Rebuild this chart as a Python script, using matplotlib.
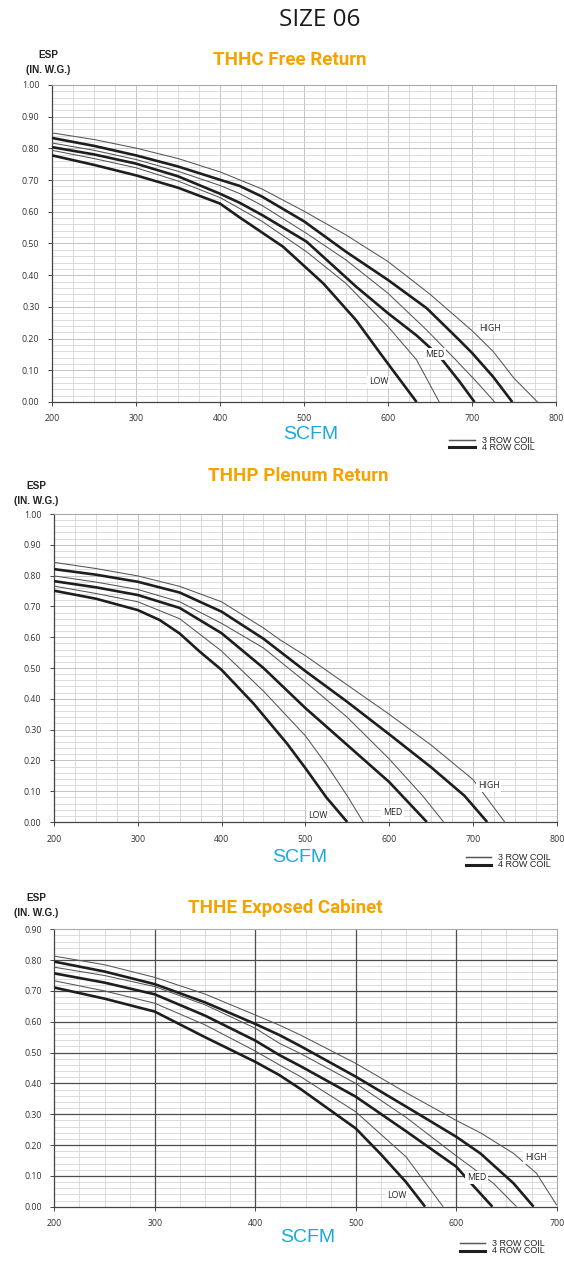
import matplotlib
matplotlib.use("Agg")
import numpy as np
import matplotlib.pyplot as plt
from matplotlib.lines import Line2D
from matplotlib.ticker import MultipleLocator, FormatStrFormatter
from matplotlib import font_manager

# ---------------------------------------------------------------- data
# THHC Free Return
free_high3_cfm = [200, 250, 300, 350, 400, 450, 500, 550, 600, 650, 700, 725, 750, 778]
free_high3_esp = [0.849, 0.828, 0.801, 0.768, 0.726, 0.672, 0.602, 0.527, 0.443, 0.34, 0.225, 0.16, 0.075, 0.0]
free_high4_cfm = [200, 250, 300, 350, 400, 423, 450, 500, 550, 600, 646, 685, 700, 725, 748]
free_high4_esp = [0.833, 0.808, 0.778, 0.743, 0.701, 0.682, 0.648, 0.570, 0.474, 0.385, 0.296, 0.195, 0.155, 0.08, 0.0]
free_med3_cfm = [200, 250, 300, 350, 400, 423, 450, 503, 550, 600, 646, 681, 705, 727]
free_med3_esp = [0.817, 0.794, 0.765, 0.728, 0.683, 0.658, 0.62, 0.532, 0.448, 0.343, 0.227, 0.132, 0.065, 0.0]
free_med4_cfm = [200, 250, 300, 350, 400, 423, 450, 503, 562, 600, 634, 661, 685, 703]
free_med4_esp = [0.804, 0.781, 0.752, 0.712, 0.657, 0.629, 0.59, 0.506, 0.364, 0.28, 0.21, 0.145, 0.065, 0.0]
free_low3_cfm = [200, 250, 300, 350, 400, 423, 450, 503, 550, 600, 634, 661]
free_low3_esp = [0.794, 0.768, 0.739, 0.697, 0.645, 0.611, 0.57, 0.474, 0.374, 0.238, 0.133, 0.0]
free_low4_cfm = [200, 250, 300, 350, 400, 423, 475, 523, 562, 594, 634]
free_low4_esp = [0.778, 0.748, 0.715, 0.676, 0.626, 0.583, 0.49, 0.374, 0.258, 0.142, 0.0]

# THHP Plenum Return
plenum_high3_cfm = [200, 250, 300, 350, 400, 450, 470, 500, 550, 600, 650, 700, 738]
plenum_high3_esp = [0.843, 0.823, 0.799, 0.765, 0.715, 0.63, 0.591, 0.54, 0.445, 0.35, 0.25, 0.138, 0.0]
plenum_high4_cfm = [200, 250, 300, 350, 400, 450, 500, 550, 600, 650, 690, 717]
plenum_high4_esp = [0.821, 0.803, 0.780, 0.745, 0.683, 0.595, 0.49, 0.39, 0.285, 0.178, 0.085, 0.0]
plenum_med3_cfm = [200, 250, 300, 350, 400, 450, 500, 550, 600, 640, 665]
plenum_med3_esp = [0.799, 0.779, 0.755, 0.715, 0.645, 0.565, 0.455, 0.34, 0.205, 0.085, 0.0]
plenum_med4_cfm = [200, 250, 300, 350, 400, 450, 500, 550, 600, 645]
plenum_med4_esp = [0.782, 0.762, 0.737, 0.695, 0.613, 0.50, 0.37, 0.25, 0.13, 0.0]
plenum_low3_cfm = [200, 250, 300, 350, 400, 450, 500, 525, 550, 569]
plenum_low3_esp = [0.766, 0.742, 0.715, 0.66, 0.555, 0.425, 0.28, 0.187, 0.085, 0.0]
plenum_low4_cfm = [200, 250, 300, 326, 350, 374, 400, 438, 478, 500, 525, 550]
plenum_low4_esp = [0.751, 0.725, 0.688, 0.656, 0.612, 0.553, 0.494, 0.385, 0.255, 0.175, 0.08, 0.0]

# THHE Exposed Cabinet
cabinet_high3_cfm = [200, 250, 300, 350, 400, 424, 445, 500, 550, 600, 625, 657, 680, 700]
cabinet_high3_esp = [0.813, 0.785, 0.744, 0.69, 0.622, 0.589, 0.557, 0.465, 0.37, 0.28, 0.238, 0.173, 0.108, 0.005]
cabinet_high4_cfm = [200, 250, 300, 350, 400, 424, 445, 500, 550, 600, 624, 657, 677]
cabinet_high4_esp = [0.795, 0.763, 0.722, 0.663, 0.593, 0.557, 0.521, 0.422, 0.325, 0.227, 0.173, 0.076, 0.0]
cabinet_med3_cfm = [200, 250, 300, 350, 400, 424, 445, 500, 550, 600, 637, 660]
cabinet_med3_esp = [0.777, 0.75, 0.714, 0.655, 0.579, 0.53, 0.497, 0.40, 0.29, 0.165, 0.076, 0.0]
cabinet_med4_cfm = [200, 250, 300, 350, 400, 424, 445, 500, 550, 600, 615, 636]
cabinet_med4_esp = [0.757, 0.727, 0.689, 0.62, 0.539, 0.492, 0.456, 0.357, 0.245, 0.13, 0.075, 0.0]
cabinet_low3_cfm = [200, 250, 300, 350, 400, 424, 445, 500, 550, 587]
cabinet_low3_esp = [0.733, 0.70, 0.66, 0.59, 0.505, 0.46, 0.422, 0.308, 0.162, 0.0]
cabinet_low4_cfm = [200, 250, 300, 350, 400, 424, 445, 500, 525, 550, 569]
cabinet_low4_esp = [0.711, 0.675, 0.633, 0.55, 0.47, 0.427, 0.382, 0.254, 0.17, 0.08, 0.0]

speed_labels = ["HIGH", "MED", "LOW"]
coil_labels = ["3 ROW COIL", "4 ROW COIL"]
chart_titles = ["THHC Free Return", "THHP Plenum Return", "THHE Exposed Cabinet"]
page_title = "SIZE 06"

# ---------------------------------------------------------------- styling
W, H = 564, 1264
fig = plt.figure(figsize=(W / 100, H / 100), dpi=100)
fig.patch.set_facecolor("white")

available = {f.name for f in font_manager.fontManager.ttflist}
TITLE_FONT = "Liberation Sans Narrow" if "Liberation Sans Narrow" in available else "Roboto"
BODY_FONT = "Open Sans" if "Open Sans" in available else "DejaVu Sans"
LABEL_FONT = "Liberation Sans"

ORANGE = "#F5A300"
BLUE = "#1AA7E0"
THIN = dict(color="#555555", lw=0.75, solid_capstyle="butt")
THICK = dict(color="#1e1e1e", lw=1.9, solid_capstyle="butt")


def px_axes(x0, y0, x1, y1):
    return fig.add_axes([x0 / W, 1 - y1 / H, (x1 - x0) / W, (y1 - y0) / H])


def style_axes(ax, xmax, ymax, dark_major):
    ax.set_xlim(200, xmax)
    ax.set_ylim(0, ymax)
    ax.xaxis.set_major_locator(MultipleLocator(100))
    ax.xaxis.set_minor_locator(MultipleLocator(25))
    ax.yaxis.set_major_locator(MultipleLocator(0.1))
    ax.yaxis.set_minor_locator(MultipleLocator(0.02))
    ax.yaxis.set_major_formatter(FormatStrFormatter("%.2f"))
    ax.grid(which="minor", color="#d6d6d6", lw=0.6)
    if dark_major:
        # heavy major grid drawn above the light minor grid
        ax.grid(which="major", visible=False)
        for xv in np.arange(300, xmax, 100):
            ax.axvline(xv, color="#4d4d4d", lw=0.9, zorder=1)
        for yv in np.arange(1, round(ymax * 10)) / 10:
            ax.axhline(yv, color="#4d4d4d", lw=0.9, zorder=1)
    else:
        ax.grid(which="major", color="#c4c4c4", lw=0.7)
    ax.set_axisbelow(True)
    ax.tick_params(which="minor", length=0)
    ax.tick_params(which="major", length=3, width=0.7, color="#444444",
                   labelsize=6.3, labelcolor="#333333", pad=6)
    for lab in ax.get_xticklabels() + ax.get_yticklabels():
        lab.set_family(BODY_FONT)
    for s in ("left", "bottom"):
        ax.spines[s].set_color("#444444")
        ax.spines[s].set_linewidth(0.9)
    for s in ("top", "right"):
        ax.spines[s].set_color("#aaaaaa")
        ax.spines[s].set_linewidth(0.8)


def draw_curves(ax, curves):
    for cfm, esp, style in curves:
        ax.plot(cfm, esp, zorder=3, solid_joinstyle="round", **style)


def speed_text(ax, x, y, s):
    ax.text(x, y, s, fontsize=6.3, family=BODY_FONT, color="#222222",
            ha="center", va="center", zorder=6,
            bbox=dict(facecolor="white", edgecolor="none", pad=1.2))


def headers(title, title_cx, title_y, esp_cx, esp_y):
    fig.text(title_cx / W, 1 - title_y / H, title, fontsize=13.5, weight="bold",
             family=TITLE_FONT, color=ORANGE, ha="center", va="center")
    fig.text(esp_cx / W, 1 - esp_y / H, "ESP", fontsize=7.2, weight="bold",
             family=LABEL_FONT, color="#222222", ha="center", va="center")
    fig.text(esp_cx / W, 1 - (esp_y + 15) / H, "(IN. W.G.)", fontsize=7.2,
             weight="bold", family=LABEL_FONT, color="#222222",
             ha="center", va="center")


def footer(scfm_cx, scfm_y, line_x0, line_x1, leg_y):
    fig.text(scfm_cx / W, 1 - scfm_y / H, "SCFM", fontsize=14, family=LABEL_FONT,
             color=BLUE, ha="center", va="center")
    for i, (lab, st) in enumerate(zip(coil_labels, (THIN, THICK))):
        y = 1 - (leg_y + 7.5 * i) / H
        fig.add_artist(Line2D([line_x0 / W, line_x1 / W], [y, y],
                              color=st["color"], lw=st["lw"] + 0.3))
        fig.text((line_x1 + 7) / W, y, lab, fontsize=6.5, family=LABEL_FONT,
                 color="#222222", ha="left", va="center")


fig.text(320 / W, 1 - 20 / H, page_title, fontsize=17.5, family=BODY_FONT,
         color="#1a1a1a", ha="center", va="center")

# ---------------------------------------------------------------- chart 1
ax1 = px_axes(52, 85, 556, 402)
style_axes(ax1, 800, 1.0, dark_major=False)
draw_curves(ax1, [
    (free_high3_cfm, free_high3_esp, THIN),
    (free_high4_cfm, free_high4_esp, THICK),
    (free_med3_cfm, free_med3_esp, THIN),
    (free_med4_cfm, free_med4_esp, THICK),
    (free_low3_cfm, free_low3_esp, THIN),
    (free_low4_cfm, free_low4_esp, THICK),
])
speed_text(ax1, 721, 0.233, speed_labels[0])
speed_text(ax1, 656, 0.151, speed_labels[1])
speed_text(ax1, 589, 0.064, speed_labels[2])
headers(chart_titles[0], 290, 60, 48, 55)
footer(311, 434, 449, 475, 440)

# ---------------------------------------------------------------- chart 2
ax2 = px_axes(54, 514, 556.7, 822)
style_axes(ax2, 800, 1.0, dark_major=False)
draw_curves(ax2, [
    (plenum_high3_cfm, plenum_high3_esp, THIN),
    (plenum_high4_cfm, plenum_high4_esp, THICK),
    (plenum_med3_cfm, plenum_med3_esp, THIN),
    (plenum_med4_cfm, plenum_med4_esp, THICK),
    (plenum_low3_cfm, plenum_low3_esp, THIN),
    (plenum_low4_cfm, plenum_low4_esp, THICK),
])
speed_text(ax2, 719, 0.117, speed_labels[0])
speed_text(ax2, 604, 0.03, speed_labels[1])
speed_text(ax2, 515, 0.02, speed_labels[2])
headers(chart_titles[1], 298, 476, 36, 486)
footer(300, 858, 466, 491, 857)

# ---------------------------------------------------------------- chart 3
ax3 = px_axes(54.3, 929.3, 556.7, 1206.7)
style_axes(ax3, 700, 0.9, dark_major=True)
draw_curves(ax3, [
    (cabinet_high3_cfm, cabinet_high3_esp, THIN),
    (cabinet_high4_cfm, cabinet_high4_esp, THICK),
    (cabinet_med3_cfm, cabinet_med3_esp, THIN),
    (cabinet_med4_cfm, cabinet_med4_esp, THICK),
    (cabinet_low3_cfm, cabinet_low3_esp, THIN),
    (cabinet_low4_cfm, cabinet_low4_esp, THICK),
])
speed_text(ax3, 679, 0.16, speed_labels[0])
speed_text(ax3, 620, 0.095, speed_labels[1])
speed_text(ax3, 541, 0.037, speed_labels[2])
headers(chart_titles[2], 285, 908, 36, 898)
footer(308, 1238, 460, 485, 1243)

fig.savefig("out.png", dpi=100, facecolor="white")
